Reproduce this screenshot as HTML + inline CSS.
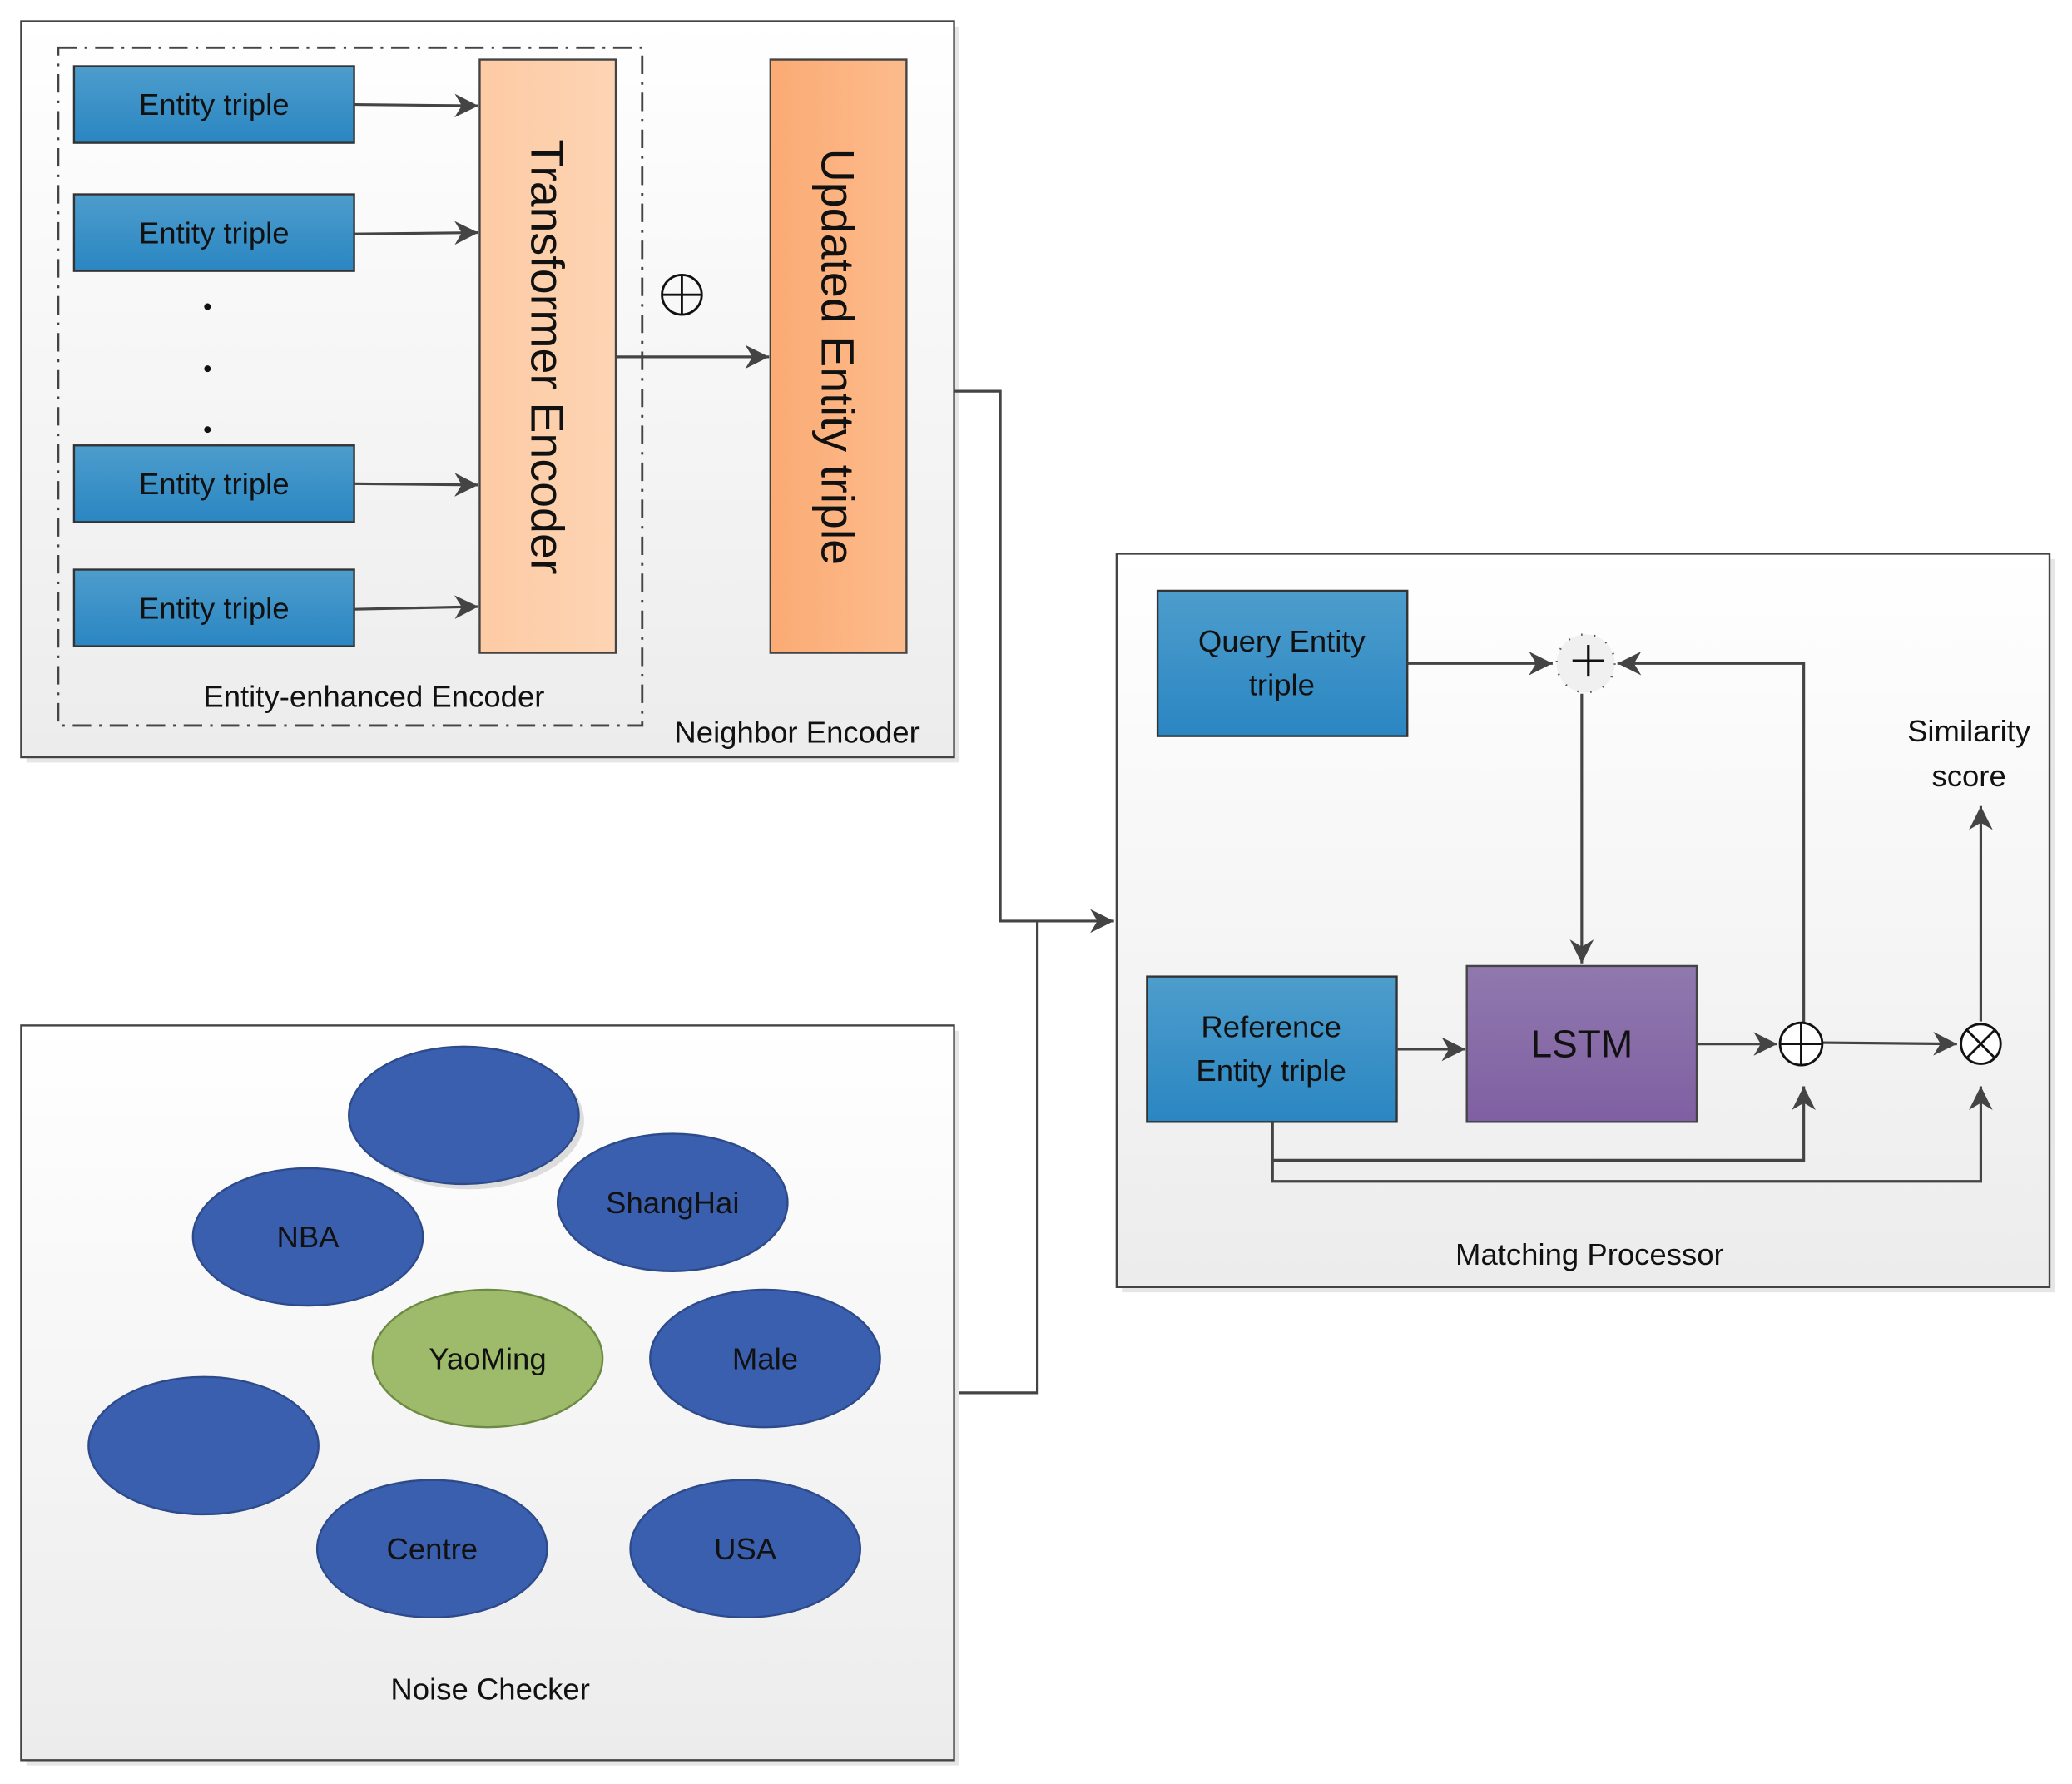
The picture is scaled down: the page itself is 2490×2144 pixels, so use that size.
<!DOCTYPE html>
<html><head><meta charset="utf-8"><style>
html,body{margin:0;padding:0;background:#fff;}
svg{display:block;}
text{font-family:"Liberation Sans",sans-serif;fill:#111;}
</style></head><body>
<svg width="2490" height="2144" viewBox="0 0 1568 1350" xmlns="http://www.w3.org/2000/svg">
<defs>
<linearGradient id="bg" x1="0" y1="0" x2="0" y2="1"><stop offset="0" stop-color="#ffffff"/><stop offset="1" stop-color="#ececec"/></linearGradient>
<linearGradient id="blue" x1="0" y1="0" x2="0" y2="1"><stop offset="0" stop-color="#4d9dcc"/><stop offset="1" stop-color="#2a86c2"/></linearGradient>
<linearGradient id="peach" x1="0" y1="0" x2="1" y2="0"><stop offset="0" stop-color="#fdcba4"/><stop offset="1" stop-color="#fdd4b4"/></linearGradient>
<linearGradient id="orange" x1="0" y1="0" x2="1" y2="0"><stop offset="0" stop-color="#fbab74"/><stop offset="1" stop-color="#fcbb8c"/></linearGradient>
<linearGradient id="purple" x1="0" y1="0" x2="0" y2="1"><stop offset="0" stop-color="#9079ae"/><stop offset="1" stop-color="#7f5fa2"/></linearGradient>
<marker id="a" viewBox="0 0 10 10" refX="10" refY="5" markerWidth="18" markerHeight="18" orient="auto" markerUnits="userSpaceOnUse"><path d="M0,0 L10,5 L0,10 L3,5 z" fill="#444"/></marker>
</defs>

<rect x="20" y="20" width="706" height="557" fill="#e6e6e6"/>
<rect x="16" y="16" width="706" height="557" fill="url(#bg)" stroke="#444" stroke-width="1.5"/>
<rect x="44" y="36" width="442" height="513" fill="none" stroke="#444" stroke-width="1.8" stroke-dasharray="14,6,2,6"/>
<g stroke="#333" stroke-width="1.5" fill="url(#blue)">
<rect x="56" y="50" width="212" height="58"/>
<rect x="56" y="147" width="212" height="58"/>
<rect x="56" y="337" width="212" height="58"/>
<rect x="56" y="431" width="212" height="58"/>
</g>
<g font-size="23" text-anchor="middle">
<text x="162" y="87">Entity triple</text>
<text x="162" y="184">Entity triple</text>
<text x="162" y="374">Entity triple</text>
<text x="162" y="468">Entity triple</text>
</g>
<g stroke="#444" stroke-width="2" fill="none" marker-end="url(#a)">
<line x1="268" y1="79" x2="362" y2="80"/>
<line x1="268" y1="177" x2="362" y2="176"/>
<line x1="268" y1="366" x2="362" y2="367"/>
<line x1="268" y1="461" x2="362" y2="459"/>
<line x1="466" y1="270" x2="582" y2="270"/>
</g>
<circle cx="157" cy="232" r="2.5" fill="#111"/><circle cx="157" cy="279" r="2.5" fill="#111"/><circle cx="157" cy="325" r="2.5" fill="#111"/>
<rect x="363" y="45" width="103" height="449" fill="url(#peach)" stroke="#444" stroke-width="1.5"/>
<rect x="583" y="45" width="103" height="449" fill="url(#orange)" stroke="#444" stroke-width="1.5"/>
<text x="0" y="0" font-size="35" text-anchor="middle" transform="translate(402,270) rotate(90)">Transformer Encoder</text>
<text x="0" y="0" font-size="35" text-anchor="middle" transform="translate(622,270) rotate(90)">Updated Entity triple</text>
<circle cx="516" cy="223" r="15" fill="none" stroke="#111" stroke-width="1.8"/>
<line x1="501" y1="223" x2="531" y2="223" stroke="#111" stroke-width="1.8"/><line x1="516" y1="208" x2="516" y2="238" stroke="#111" stroke-width="1.8"/>
<text x="283" y="535" font-size="23" text-anchor="middle">Entity-enhanced Encoder</text>
<text x="603" y="562" font-size="23" text-anchor="middle">Neighbor Encoder</text>

<polyline points="722,296 757,296 757,697 843,697" fill="none" stroke="#444" stroke-width="2" marker-end="url(#a)"/>
<polyline points="722,1054 785,1054 785,697" fill="none" stroke="#444" stroke-width="2"/>

<rect x="849" y="423" width="706" height="555" fill="#e6e6e6"/>
<rect x="845" y="419" width="706" height="555" fill="url(#bg)" stroke="#444" stroke-width="1.5"/>
<rect x="876" y="447" width="189" height="110" fill="url(#blue)" stroke="#333" stroke-width="1.5"/>
<text x="970" y="493" font-size="23" text-anchor="middle">Query Entity</text>
<text x="970" y="526" font-size="23" text-anchor="middle">triple</text>
<rect x="868" y="739" width="189" height="110" fill="url(#blue)" stroke="#333" stroke-width="1.5"/>
<text x="962" y="785" font-size="23" text-anchor="middle">Reference</text>
<text x="962" y="818" font-size="23" text-anchor="middle">Entity triple</text>
<rect x="1110" y="731" width="174" height="118" fill="url(#purple)" stroke="#444" stroke-width="1.5"/>
<text x="1197" y="800" font-size="29" text-anchor="middle">LSTM</text>
<circle cx="1200" cy="502" r="22" fill="#f0f0f0" stroke="#555" stroke-width="1.5" stroke-dasharray="1,9"/>
<line x1="1190" y1="500" x2="1214" y2="500" stroke="#111" stroke-width="2"/><line x1="1202" y1="488" x2="1202" y2="512" stroke="#111" stroke-width="2"/>
<g stroke="#444" stroke-width="2" fill="none" marker-end="url(#a)">
<line x1="1065" y1="502" x2="1175" y2="502"/>
<polyline points="1365,774 1365,502 1224,502"/>
<line x1="1197" y1="525" x2="1197" y2="729"/>
<line x1="1057" y1="794" x2="1109" y2="794"/>
<line x1="1284" y1="790" x2="1345" y2="790"/>
<line x1="1379" y1="789" x2="1481" y2="790"/>
<line x1="1499" y1="773" x2="1499" y2="610"/>
<polyline points="963,849 963,878 1365,878 1365,822"/>
<polyline points="963,878 963,894 1499,894 1499,822"/>
</g>
<circle cx="1363" cy="790" r="16" fill="#fff" stroke="#111" stroke-width="1.8"/>
<line x1="1347" y1="790" x2="1379" y2="790" stroke="#111" stroke-width="1.8"/><line x1="1363" y1="774" x2="1363" y2="806" stroke="#111" stroke-width="1.8"/>
<circle cx="1499" cy="790" r="15" fill="#fff" stroke="#111" stroke-width="1.8"/>
<line x1="1489" y1="780" x2="1509" y2="800" stroke="#111" stroke-width="1.8"/><line x1="1509" y1="780" x2="1489" y2="800" stroke="#111" stroke-width="1.8"/>
<text x="1490" y="561" font-size="23" text-anchor="middle">Similarity</text>
<text x="1490" y="595" font-size="23" text-anchor="middle">score</text>
<text x="1203" y="957" font-size="23" text-anchor="middle">Matching Processor</text>

<rect x="20" y="780" width="706" height="556" fill="#e6e6e6"/>
<rect x="16" y="776" width="706" height="556" fill="url(#bg)" stroke="#444" stroke-width="1.5"/>
<g stroke="#2d4a8a" stroke-width="1.5">
<ellipse cx="355" cy="848" rx="87" ry="52" fill="#ddd" stroke="none"/>
<ellipse cx="351" cy="844" rx="87" ry="52" fill="#3a5fae"/>
<ellipse cx="233" cy="936" rx="87" ry="52" fill="#3a5fae"/>
<ellipse cx="509" cy="910" rx="87" ry="52" fill="#3a5fae"/>
<ellipse cx="369" cy="1028" rx="87" ry="52" fill="#9dbb6a" stroke="#6d8a44"/>
<ellipse cx="579" cy="1028" rx="87" ry="52" fill="#3a5fae"/>
<ellipse cx="154" cy="1094" rx="87" ry="52" fill="#3a5fae"/>
<ellipse cx="327" cy="1172" rx="87" ry="52" fill="#3a5fae"/>
<ellipse cx="564" cy="1172" rx="87" ry="52" fill="#3a5fae"/>
</g>
<g font-size="23" text-anchor="middle">
<text x="233" y="944">NBA</text>
<text x="509" y="918">ShangHai</text>
<text x="369" y="1036">YaoMing</text>
<text x="579" y="1036">Male</text>
<text x="327" y="1180">Centre</text>
<text x="564" y="1180">USA</text>
<text x="371" y="1286">Noise Checker</text>
</g>
</svg>
</body></html>
